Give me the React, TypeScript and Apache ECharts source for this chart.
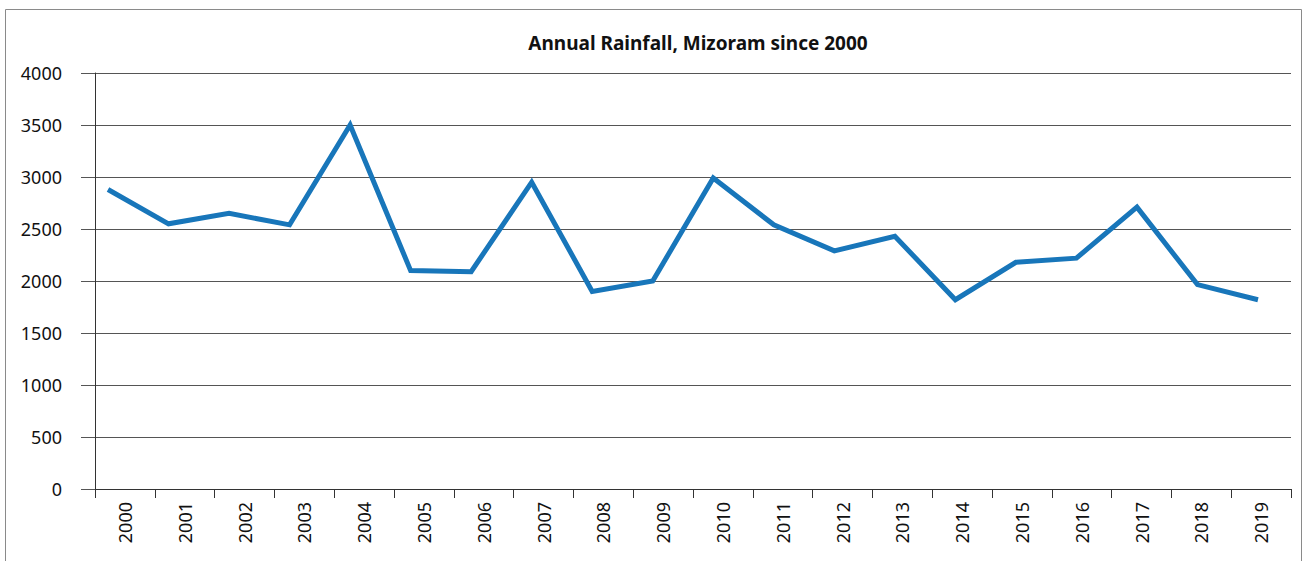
import React, { useEffect, useRef } from "react";
import * as echarts from "echarts";

const years = ["2000","2001","2002","2003","2004","2005","2006","2007","2008","2009","2010","2011","2012","2013","2014","2015","2016","2017","2018","2019"];
const rainfall = [2880, 2550, 2650, 2540, 3500, 2100, 2090, 2950, 1900, 2000, 2990, 2540, 2290, 2430, 1820, 2180, 2220, 2710, 1965, 1820];
const titleText = "Annual Rainfall, Mizoram since 2000";

export default function App() {
  const ref = useRef<HTMLDivElement>(null);
  useEffect(() => {
    if (!ref.current) return;
    const chart = echarts.init(ref.current, null, { renderer: "svg" });
    const font = "'Noto Sans', sans-serif";
    chart.setOption({
      animation: false,
      backgroundColor: "#ffffff",
      title: {
        text: titleText,
        left: 693,
        textAlign: "center",
        top: 28,
        textStyle: { fontFamily: font, fontSize: 19, fontWeight: "bold", color: "#111" },
      },
      graphic: [
        {
          type: "rect",
          shape: { x: 5.5, y: 9.5, width: 1296, height: 600 },
          style: { fill: "none", stroke: "#8a8a8a", lineWidth: 1 },
          silent: true,
        },
      ],
      grid: [
        { left: 95, right: 15, top: 73, bottom: 72 },
        { left: 108, right: 48, top: 73, bottom: 72 },
      ],
      xAxis: [
        {
          type: "category",
          gridIndex: 0,
          data: years,
          boundaryGap: true,
          axisLine: { lineStyle: { color: "#333", width: 1 } },
          axisTick: { show: true, length: 9, alignWithLabel: false, lineStyle: { color: "#333" } },
          axisLabel: { rotate: 90, margin: 13, fontFamily: font, fontSize: 18, color: "#111" },
          splitLine: { show: false },
        },
        {
          type: "category",
          gridIndex: 1,
          data: years,
          boundaryGap: false,
          show: false,
        },
      ],
      yAxis: [
        {
          type: "value",
          gridIndex: 0,
          min: 0,
          max: 4000,
          interval: 500,
          axisLine: { show: true, lineStyle: { color: "#333", width: 1 } },
          axisTick: { show: true, length: 14, lineStyle: { color: "#555" } },
          axisLabel: {
            margin: 33,
            fontFamily: font,
            fontSize: 18,
            color: "#111",
            formatter: (v: number) => String(v),
          },
          splitLine: { show: true, lineStyle: { color: "#555", width: 1 } },
        },
        {
          type: "value",
          gridIndex: 1,
          min: 0,
          max: 4000,
          interval: 500,
          show: false,
          splitLine: { show: false },
        },
      ],
      series: [
        {
          type: "line",
          xAxisIndex: 1,
          yAxisIndex: 1,
          data: rainfall,
          symbol: "none",
          lineStyle: { color: "#1876ba", width: 5, join: "miter" },
        },
      ],
    });
    return () => chart.dispose();
  }, []);
  return (
    <div
      ref={ref}
      style={{ position: "fixed", left: 0, top: 0, width: 1306, height: 561 }}
    />
  );
}
